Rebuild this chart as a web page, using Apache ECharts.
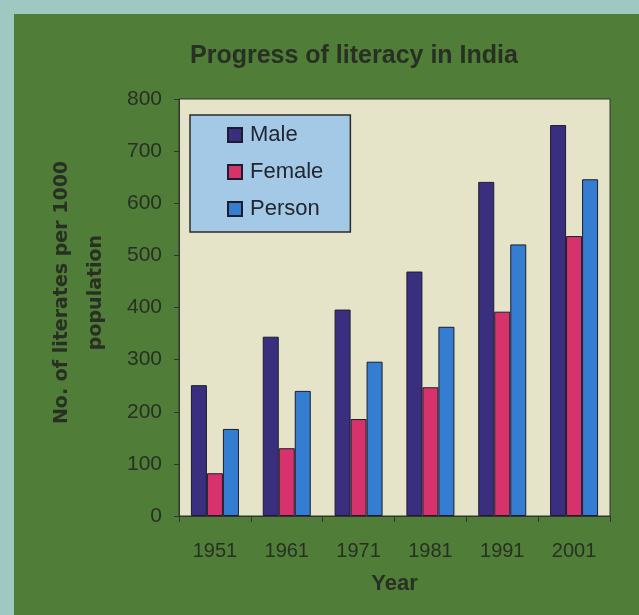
<!DOCTYPE html>
<html>
<head>
<meta charset="utf-8">
<script src="https://cdn.jsdelivr.net/npm/echarts@6/dist/echarts.min.js"></script>
<style>
  html, body { margin: 0; padding: 0; background: #9ec8c0; }
  .chart { width: 639px; height: 615px; }
</style>
</head>
<body>
<div class="chart"></div>
<script>
// 印度识字率柱状图

const years = ['1951', '1961', '1971', '1981', '1991', '2001'];
const male = [251, 344, 396, 469, 641, 750];
const female = [82, 130, 186, 247, 392, 537];
const person = [167, 240, 296, 363, 521, 646];
const yTicks = [0, 100, 200, 300, 400, 500, 600, 700, 800];

(function () {
    let myChart = echarts.init(document.querySelector('.chart'));

    const txt = '#283024';
    const font = 'Liberation Sans, Arial, sans-serif';

    let option = {
        backgroundColor: '#9ec8c0',
        animation: false,
        textStyle: { fontFamily: font },
        graphic: [
            {
                type: 'rect',
                z: -10,
                shape: { x: 14, y: 14, width: 625, height: 601 },
                style: { fill: '#507d37' }
            }
        ],
        title: {
            text: 'Progress of literacy in India',
            left: 190,
            top: 44,
            padding: 0,
            textStyle: { fontSize: 25, fontWeight: 'bold', color: txt, fontFamily: font }
        },
        legend: {
            orient: 'vertical',
            left: 190,
            top: 115,
            padding: [9, 27, 12, 37],
            itemGap: 15,
            itemWidth: 14,
            itemHeight: 14,
            icon: 'rect',
            backgroundColor: '#a3c9e6',
            borderColor: '#2b2b2b',
            borderWidth: 1.5,
            textStyle: { fontSize: 22, color: '#222630', fontFamily: font, padding: [0, 0, 0, 3] },
            data: ['Male', 'Female', 'Person']
        },
        grid: {
            left: 179,
            right: 29,
            top: 99,
            bottom: 99,
            show: true,
            backgroundColor: '#e5e4c9',
            borderColor: '#333',
            borderWidth: 1
        },
        xAxis: {
            type: 'category',
            data: years,
            name: 'Year',
            nameLocation: 'middle',
            nameGap: 57,
            nameTextStyle: { fontSize: 22, fontWeight: 'bold', color: txt },
            axisLine: { lineStyle: { color: '#333' } },
            axisTick: { show: true, length: 6, lineStyle: { color: '#333' } },
            axisLabel: { fontSize: 20, color: txt, margin: 25 }
        },
        yAxis: {
            type: 'value',
            min: yTicks[0],
            max: yTicks[yTicks.length - 1],
            interval: 100,
            name: 'No. of literates per 1000\npopulation',
            nameLocation: 'middle',
            nameRotate: 90,
            nameGap: 66,
            nameTextStyle: {
                fontSize: 19, fontWeight: 'bold', color: txt, lineHeight: 34,
                fontFamily: 'DejaVu Sans, sans-serif', padding: [0, 0, 0, 30]
            },
            axisLine: { show: true, lineStyle: { color: '#333' } },
            axisTick: { show: true, length: 5, lineStyle: { color: '#333' } },
            splitLine: { show: false },
            axisLabel: { fontSize: 21, color: txt, margin: 17 }
        },
        series: [
            {
                name: 'Male',
                type: 'bar',
                data: male,
                barWidth: 16,
                barGap: '0%',
                itemStyle: { color: '#3a2f7e', borderColor: '#1c1c2c', borderWidth: 1 }
            },
            {
                name: 'Female',
                type: 'bar',
                data: female,
                barWidth: 16,
                barGap: '0%',
                itemStyle: { color: '#d6336c', borderColor: '#1c1c2c', borderWidth: 1 }
            },
            {
                name: 'Person',
                type: 'bar',
                data: person,
                barWidth: 16,
                barGap: '0%',
                itemStyle: { color: '#357dd0', borderColor: '#1c1c2c', borderWidth: 1 }
            }
        ]
    };

    myChart.setOption(option);
})();
</script>
</body>
</html>
